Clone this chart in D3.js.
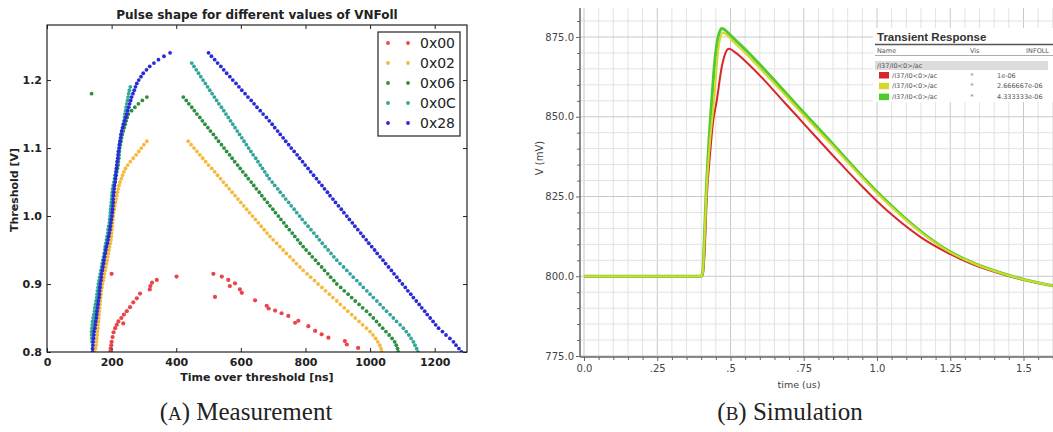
<!DOCTYPE html>
<html>
<head>
<meta charset="utf-8">
<script src="https://cdn.jsdelivr.net/npm/d3@7"></script>
<style>
  body { margin: 0; background: #fff; }
</style>
</head>
<body>
<div id="chart"></div>
<script>
// ---------------- data: (A) measurement ----------------
const vnfollCodes = ["0x00", "0x02", "0x06", "0x0C", "0x28"];
const vnfollColors = ["#e8454c", "#f6b93c", "#2e8f40", "#33a69b", "#2a2ad6"];

// threshold scan (V), index i matches the rise/fall arrays below
const thresholds = [
  0.800,0.805,0.810,0.815,0.820,0.825,0.830,0.835,0.840,0.845,
  0.850,0.855,0.860,0.865,0.870,0.875,0.880,0.885,0.890,0.895,
  0.900,0.905,0.910,0.915,0.920,0.925,0.930,0.935,0.940,0.945,
  0.950,0.955,0.960,0.965,0.970,0.975,0.980,0.985,0.990,0.995,
  1.000,1.005,1.010,1.015,1.020,1.025,1.030,1.035,1.040,1.045,
  1.050,1.055,1.060,1.065,1.070,1.075,1.080,1.085,1.090,1.095,
  1.100,1.105,1.110,1.115,1.120,1.125,1.130,1.135,1.140,1.145,
  1.150,1.155,1.160,1.165,1.170,1.175,1.180,1.185,1.190,1.195,
  1.200,1.205,1.210,1.215,1.220,1.225,1.230,1.235,1.240
];

// 0x00: scattered points [time ns, threshold V]
const pts0x00 = [
  [195,0.800],[197,0.805],[199,0.810],[200,0.815],[203,0.822],[206,0.829],[211,0.835],
  [216,0.840],[221,0.845],[236,0.842],[230,0.850],[238,0.855],[247,0.860],[257,0.866],
  [267,0.873],[278,0.879],[288,0.886],[318,0.892],[320,0.897],[325,0.902],[340,0.906],
  [200,0.915],[401,0.911],
  [515,0.915],[520,0.881],[541,0.911],[561,0.906],[566,0.897],[582,0.901],[597,0.892],
  [603,0.887],[644,0.876],[680,0.868],[686,0.864],[706,0.861],[726,0.857],[747,0.853],
  [768,0.843],[778,0.846],[809,0.838],[830,0.831],[850,0.826],[871,0.821],[922,0.816],
  [928,0.811],[963,0.806]
];

const rise0x02 = [
  148,150,152,153,154,155,156,157,158,159,
  160,161,162,163,164,165,166,167,168,170,
  172,174,176,178,180,182,184,186,188,190,
  192,194,196,198,199,200,201,202,203,204,
  205,206,208,210,212,214,216,218,220,223,
  226,230,234,238,243,250,258,267,276,284,
  292,300,309
];
const fall0x02 = [
  1036,1034,1030,1024,1017,1009,1000,989,977,966,
  954,943,931,920,908,897,885,874,862,851,
  839,828,816,805,793,783,772,762,752,741,
  731,721,711,700,690,681,672,663,654,645,
  636,627,618,609,600,591,582,573,564,555,
  546,537,528,519,510,500,491,482,473,464,
  455,446,437
];

const rise0x06 = [
  null,null,null,null,141,141,142,143,144,146,
  148,150,152,153,155,157,158,159,160,161,
  162,164,166,168,170,172,174,176,178,180,
  182,184,186,188,190,192,193,194,195,196,
  197,198,199,200,201,202,203,204,206,208,
  210,212,214,216,218,220,221,222,223,224,
  225,227,229,231,233,236,239,242,245,248,
  252,262,272,283,295,309
];
const fall0x06 = [
  1087,1085,1081,1076,1068,1059,1049,1039,1029,1020,
  1010,1000,989,977,966,954,943,932,920,909,
  897,888,878,869,859,850,840,831,821,812,
  802,793,784,776,767,759,750,741,733,724,
  716,707,699,690,682,673,665,657,648,640,
  632,623,615,606,598,590,581,573,565,556,
  548,540,531,523,515,506,498,489,481,473,
  464,456,448,439,431,422
];
const extra0x06 = [[138, 1.180]];

const rise0x0C = [
  null,null,null,139,139,138,138,139,140,141,
  143,145,147,148,150,152,154,155,156,158,
  159,161,163,165,167,169,171,173,175,177,
  179,180,182,184,186,188,189,191,193,194,
  195,196,197,198,199,200,201,202,203,205,
  207,209,211,213,215,217,219,221,222,223,
  224,225,226,228,230,232,234,236,238,240,
  241,243,245,247,249,251,253,255,258
];
const fall0x0C = [
  1148,1144,1139,1134,1127,1120,1112,1103,1093,1082,
  1072,1062,1051,1041,1031,1021,1010,1000,990,979,
  969,959,948,938,928,918,907,897,888,879,
  870,861,852,843,835,826,817,808,799,790,
  782,773,765,756,748,739,731,722,714,705,
  697,688,681,674,667,660,653,646,638,631,
  624,617,610,603,596,589,582,575,568,561,
  554,547,540,532,525,518,511,504,497,490,
  483,476,469,462,455,448
];

const rise0x28 = [
  141,141,142,143,144,145,146,148,150,151,
  153,154,155,157,158,159,161,162,163,164,
  165,167,168,169,171,173,175,176,178,180,
  182,184,187,189,191,193,195,196,198,199,
  201,202,203,204,205,205,206,207,208,209,
  211,212,213,214,215,216,217,219,220,221,
  223,224,226,228,229,231,234,237,241,244,
  247,250,253,256,259,262,266,270,274,278,
  284,291,298,308,318,331,345,362,381
];
const fall0x28 = [
  1283,1275,1266,1258,1247,1235,1224,1212,1203,1195,
  1186,1177,1169,1160,1152,1143,1134,1126,1117,1109,
  1100,1091,1083,1074,1066,1057,1048,1040,1031,1022,
  1014,1005,996,988,979,971,962,953,945,936,
  928,919,911,902,893,885,876,868,859,851,
  842,834,825,816,808,799,791,782,774,765,
  756,748,739,731,722,714,705,697,688,679,
  669,660,650,641,632,622,613,603,594,585,
  575,566,556,547,538,528,519,509,500
];

const measXTicks = [0, 200, 400, 600, 800, 1000, 1200];
const measYTicks = [0.8, 0.9, 1.0, 1.1, 1.2];

// ---------------- data: (B) simulation ----------------
const simNames = ["1e-06", "2.666667e-06", "4.333333e-06"];
const simColors = ["#d8262c", "#d6d82c", "#4fcc2c"];
// [time us, V mV]
const simRed = [
  [0,800],[0.40,800],[0.405,800.5],[0.412,808],[0.419,824.4],[0.43,838],[0.44,848],
  [0.453,855],[0.47,865.5],[0.482,869.8],[0.495,871.3],[0.51,870.6],[0.55,867.5],
  [0.612,861.8],[0.669,856],[0.726,850.3],[0.783,844.5],[0.84,838.8],[0.897,833.2],
  [0.953,827.8],[1.0,823.5],[1.067,818],[1.15,812.2],[1.238,807.5],[1.32,804],
  [1.408,801.2],[1.5,798.9],[1.6,797]
];
const simYellow = [
  [0,800],[0.40,800],[0.405,801],[0.41,809],[0.416,823],[0.428,840],[0.444,855],
  [0.458,870.7],[0.466,875],[0.474,876.3],[0.485,875.8],[0.51,873.5],[0.555,869.5],
  [0.612,864],[0.669,858.5],[0.726,852.8],[0.783,847.2],[0.84,841.7],[0.897,836],
  [0.95,830.8],[1.0,826],[1.067,820.2],[1.15,813.7],[1.238,808.1],[1.32,804.4],
  [1.408,801.4],[1.5,799],[1.6,797]
];
const simGreen = [
  [0,800],[0.40,800],[0.405,801],[0.41,810],[0.416,824],[0.425,840],[0.436,855],
  [0.447,868],[0.458,875],[0.47,877.7],[0.48,877.3],[0.50,875.5],[0.555,870.7],
  [0.612,865.2],[0.669,859.5],[0.726,853.7],[0.783,848],[0.84,842.4],[0.897,836.6],
  [0.95,831.3],[1.0,826.5],[1.067,820.6],[1.15,814],[1.238,808.3],[1.32,804.5],
  [1.408,801.5],[1.5,799],[1.6,797]
];
const simXTicks = [0, 0.25, 0.5, 0.75, 1.0, 1.25, 1.5];
const simXTickLabels = ["0.0", ".25", ".5", ".75", "1.0", "1.25", "1.5"];
const simYTicks = [775, 800, 825, 850, 875];

// ---------------- drawing ----------------
const svg = d3.select("#chart").append("svg")
  .attr("width", 1053).attr("height", 432)
  .style("font-family", "DejaVu Sans");

// ===== (A) =====
const xL = d3.scaleLinear().domain([0, 1300]).range([47, 467]);
const yL = d3.scaleLinear().domain([0.8, 1.281]).range([352, 25]);

svg.append("clipPath").attr("id", "clipL")
  .append("rect").attr("x", 47).attr("y", 25).attr("width", 420).attr("height", 327);

function edgePoints(rise, fall) {
  const p = [];
  thresholds.forEach((v, i) => {
    if (rise[i] != null) p.push([rise[i], v]);
    if (fall[i] != null) p.push([fall[i], v]);
  });
  return p;
}
const measSeries = [
  pts0x00,
  edgePoints(rise0x02, fall0x02),
  edgePoints(rise0x06, fall0x06).concat(extra0x06),
  edgePoints(rise0x0C, fall0x0C),
  edgePoints(rise0x28, fall0x28)
];

const gL = svg.append("g").attr("clip-path", "url(#clipL)");
measSeries.forEach((pts, k) => {
  gL.append("g").selectAll("circle").data(pts).join("circle")
    .attr("cx", d => xL(d[0]))
    .attr("cy", d => yL(d[1]))
    .attr("r", k === 0 ? 2.1 : 1.9)
    .attr("fill", vnfollColors[k]);
});

// axes, matplotlib style ticks pointing inwards
const axB = svg.append("g").attr("transform", "translate(0,352)")
  .call(d3.axisBottom(xL).tickValues(measXTicks).tickSize(-4).tickPadding(6).tickFormat(d3.format("d")));
const axT = svg.append("g").attr("transform", "translate(0,25)")
  .call(d3.axisTop(xL).tickValues(measXTicks).tickSize(-4).tickFormat(""));
const axLf = svg.append("g").attr("transform", "translate(47,0)")
  .call(d3.axisLeft(yL).tickValues(measYTicks).tickSize(-4).tickPadding(5).tickFormat(d3.format(".1f")));
const axR = svg.append("g").attr("transform", "translate(467,0)")
  .call(d3.axisRight(yL).tickValues(measYTicks).tickSize(-4).tickFormat(""));
[axB, axT, axLf, axR].forEach(a => {
  a.select(".domain").remove();
  a.selectAll("line").attr("stroke", "#222");
  a.selectAll("text").attr("font-family", "DejaVu Sans").attr("font-size", 11)
    .attr("font-weight", "bold").attr("fill", "#222");
});
svg.append("rect").attr("x", 47).attr("y", 25).attr("width", 420).attr("height", 327)
  .attr("fill", "none").attr("stroke", "#222").attr("stroke-width", 1.2);

svg.append("text").attr("x", 257).attr("y", 19).attr("text-anchor", "middle")
  .attr("font-size", 12).attr("font-weight", "bold").attr("fill", "#222")
  .text("Pulse shape for different values of VNFoll");
svg.append("text").attr("x", 257).attr("y", 381).attr("text-anchor", "middle")
  .attr("font-size", 11).attr("font-weight", "bold").attr("fill", "#222")
  .text("Time over threshold [ns]");
svg.append("text").attr("transform", "translate(18,190) rotate(-90)").attr("text-anchor", "middle")
  .attr("font-size", 11).attr("font-weight", "bold").attr("fill", "#222")
  .text("Threshold [V]");

// legend
const leg = svg.append("g");
leg.append("rect").attr("x", 378).attr("y", 32).attr("width", 82).attr("height", 104)
  .attr("fill", "#fff").attr("stroke", "#222").attr("stroke-width", 1.2);
vnfollCodes.forEach((c, k) => {
  const y = 43 + 20 * k;
  [388, 408].forEach(x => leg.append("circle").attr("cx", x).attr("cy", y).attr("r", 1.9)
    .attr("fill", vnfollColors[k]));
  leg.append("text").attr("x", 420).attr("y", y).attr("dy", "0.36em")
    .attr("font-size", 14).attr("fill", "#222").text(c);
});

// ===== (B) =====
const xR = d3.scaleLinear().domain([0, 1.5]).range([584, 1023.5]);
const yR = d3.scaleLinear().domain([775, 875]).range([356, 37]);
const plotTop = 8, plotLeft = 580, plotRight = 1053, plotBottom = 356;

const gridX = d3.range(0, 33).map(i => i * 0.05);
const gridY = d3.range(0, 22).map(i => 775 + i * 5);
const gG = svg.append("g");
gG.selectAll(".vx").data(gridX).join("line")
  .attr("x1", d => xR(d)).attr("x2", d => xR(d))
  .attr("y1", plotTop).attr("y2", plotBottom)
  .attr("stroke", (d, i) => i % 5 === 0 ? "#c8c8c8" : "#e2e2e2").attr("stroke-width", 1);
gG.selectAll(".hy").data(gridY.filter(v => yR(v) >= plotTop)).join("line")
  .attr("x1", plotLeft).attr("x2", plotRight)
  .attr("y1", d => yR(d)).attr("y2", d => yR(d))
  .attr("stroke", (d, i) => i % 5 === 0 ? "#c8c8c8" : "#e2e2e2").attr("stroke-width", 1);

svg.append("clipPath").attr("id", "clipR")
  .append("rect").attr("x", plotLeft).attr("y", plotTop)
  .attr("width", plotRight - plotLeft).attr("height", plotBottom - plotTop);
const line = d3.line().x(d => xR(d[0])).y(d => yR(d[1])).curve(d3.curveMonotoneX);
const gR = svg.append("g").attr("clip-path", "url(#clipR)");
gR.append("path").attr("d", line(simRed)).attr("fill", "none")
  .attr("stroke", simColors[0]).attr("stroke-width", 2);
gR.append("path").attr("d", line(simGreen)).attr("fill", "none")
  .attr("stroke", simColors[2]).attr("stroke-width", 3);
gR.append("path").attr("d", line(simYellow)).attr("fill", "none")
  .attr("stroke", simColors[1]).attr("stroke-width", 2);

// axes
const yMinor = gridY.filter(v => v % 25 !== 0 && yR(v) >= plotTop);
const xMinor = gridX.filter((d, i) => i % 5 !== 0 && xR(d) <= plotRight);
const ay = svg.append("g").attr("transform", `translate(${plotLeft},0)`)
  .call(d3.axisLeft(yR).tickValues(simYTicks).tickSize(4).tickPadding(2).tickFormat(d3.format(".1f")));
const ayMinor = svg.append("g").attr("transform", `translate(${plotLeft},0)`)
  .call(d3.axisLeft(yR).tickValues(yMinor).tickSize(3).tickFormat(""));
const ax = svg.append("g").attr("transform", `translate(0,${plotBottom + 1})`)
  .call(d3.axisBottom(xR).tickValues(simXTicks).tickSize(4).tickPadding(4)
    .tickFormat((d, i) => simXTickLabels[i]));
const axMinor = svg.append("g").attr("transform", `translate(0,${plotBottom + 1})`)
  .call(d3.axisBottom(xR).tickValues(xMinor).tickSize(3).tickFormat(""));
[ay, ayMinor, ax, axMinor].forEach(a => {
  a.select(".domain").remove();
  a.selectAll("line").attr("stroke", "#666");
  a.selectAll("text").attr("font-family", "DejaVu Sans").attr("font-size", 10).attr("fill", "#444");
});
svg.append("line").attr("x1", plotLeft).attr("x2", plotLeft).attr("y1", plotTop).attr("y2", plotBottom + 1)
  .attr("stroke", "#666").attr("stroke-width", 1.5);
svg.append("line").attr("x1", plotLeft).attr("x2", plotRight).attr("y1", plotBottom + 1).attr("y2", plotBottom + 1)
  .attr("stroke", "#666").attr("stroke-width", 1.5);

svg.append("text").attr("x", 799).attr("y", 388).attr("text-anchor", "middle")
  .attr("font-size", 9.5).attr("fill", "#444").text("time (us)");
svg.append("text").attr("transform", "translate(543,158) rotate(-90)").attr("text-anchor", "middle")
  .attr("font-size", 10).attr("fill", "#444").text("V (mV)");

// simulation legend
const lg = svg.append("g");
lg.append("rect").attr("x", 873).attr("y", 28).attr("width", 180).attr("height", 74).attr("fill", "#fff");
lg.append("text").attr("x", 877).attr("y", 41).attr("font-family", "Liberation Sans")
  .attr("font-size", 11.5).attr("font-weight", "bold")
  .attr("fill", "#333").text("Transient Response");
lg.append("line").attr("x1", 875).attr("x2", 1053).attr("y1", 44.5).attr("y2", 44.5)
  .attr("stroke", "#555").attr("stroke-width", 1.5);
lg.append("text").attr("x", 877).attr("y", 53).attr("font-size", 6.5).attr("fill", "#555").text("Name");
lg.append("text").attr("x", 970).attr("y", 53).attr("font-size", 6.5).attr("fill", "#555").text("Vis");
lg.append("text").attr("x", 1049).attr("y", 53).attr("text-anchor", "end").attr("font-size", 6.5)
  .attr("fill", "#555").text("INFOLL");
lg.append("line").attr("x1", 875).attr("x2", 1053).attr("y1", 55.5).attr("y2", 55.5)
  .attr("stroke", "#999").attr("stroke-width", 0.8);
lg.append("rect").attr("x", 875).attr("y", 61).attr("width", 173).attr("height", 9).attr("fill", "#dcdcdc");
lg.append("text").attr("x", 877).attr("y", 68).attr("font-size", 6.5).attr("fill", "#555").text("/I37/I0<0>/ac");
simNames.forEach((n, k) => {
  const y = 75 + 10.8 * k;
  lg.append("rect").attr("x", 879).attr("y", y - 3).attr("width", 10).attr("height", 6.5).attr("fill", simColors[k]);
  lg.append("text").attr("x", 892).attr("y", y + 2.5).attr("font-size", 6.5).attr("fill", "#555").text("/I37/I0<0>/ac");
  lg.append("text").attr("x", 972).attr("y", y + 2.5).attr("text-anchor", "middle").attr("font-size", 7)
    .attr("fill", "#888").text("*");
  lg.append("text").attr("x", 997).attr("y", y + 2.5).attr("font-size", 6.5).attr("fill", "#555").text(n);
});

// captions
const cap = [["A", "Measurement", 246], ["B", "Simulation", 790]];
cap.forEach(c => {
  const t = svg.append("text").attr("x", c[2]).attr("y", 420).attr("text-anchor", "middle")
    .attr("font-family", "Liberation Serif").attr("font-size", 25).attr("fill", "#222");
  t.append("tspan").text("(");
  t.append("tspan").attr("font-size", 19).text(c[0]);
  t.append("tspan").text(") " + c[1]);
});
</script>
</body>
</html>
